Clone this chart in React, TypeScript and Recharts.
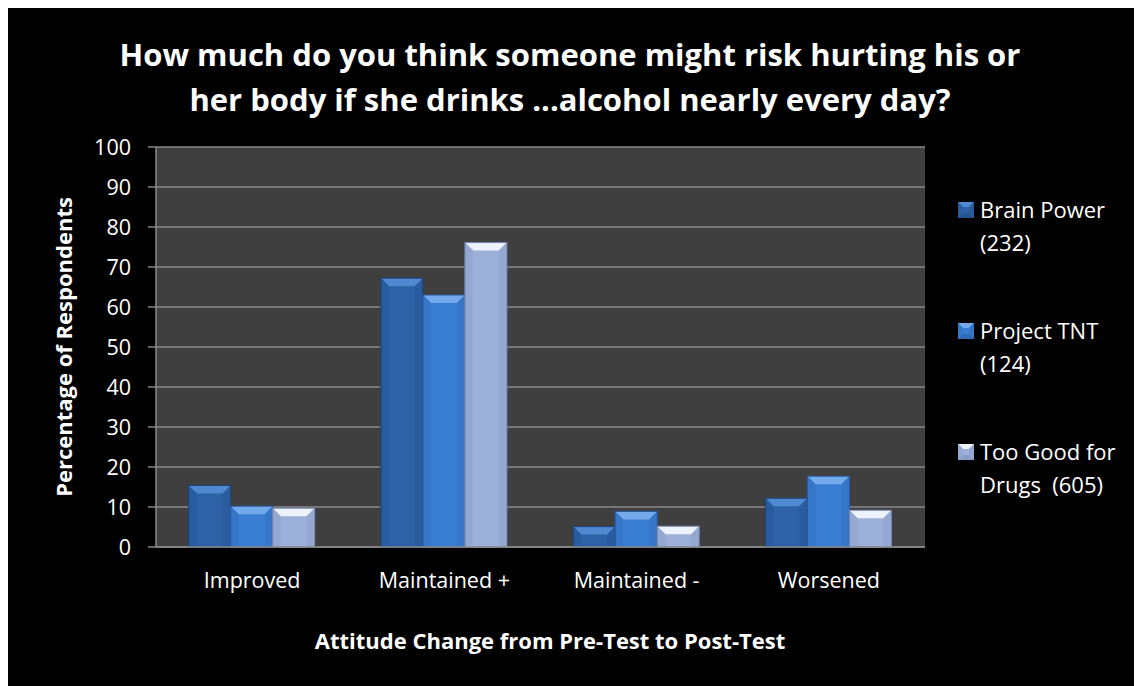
import { BarChart, Bar, XAxis, YAxis, CartesianGrid } from 'recharts'

// Attitude change categories
const categories = ['Improved', 'Maintained +', 'Maintained -', 'Worsened']

// Percentage of respondents per program
const brainPower = [15.4, 67.2, 5.1, 12.2]
const projectTnt = [10.2, 63.0, 8.9, 17.7]
const tooGood = [9.7, 76.1, 5.2, 9.2]

const yTicks = [0, 10, 20, 30, 40, 50, 60, 70, 80, 90, 100]

const seriesNames = ['Brain Power (232)', 'Project TNT (124)', 'Too Good for Drugs  (605)']
const legendLines = [
  ['Brain Power', '(232)'],
  ['Project TNT', '(124)'],
  ['Too Good for', 'Drugs  (605)'],
]

const data = categories.map((name, i) => ({
  name,
  brain: brainPower[i],
  tnt: projectTnt[i],
  tgfd: tooGood[i],
}))

interface Palette {
  face: string
  top: string
  side: string
  bottom: string
  edge: string
}

const palettes: Palette[] = [
  { face: '#2d62a7', top: '#5089cf', side: '#285c9f', bottom: '#24548f', edge: '#1a4279' },
  { face: '#3a7ed3', top: '#74aaec', side: '#3676c8', bottom: '#306bb5', edge: '#2859a0' },
  { face: '#9cb0d9', top: '#eef2fd', side: '#94a8d2', bottom: '#8b9fc8', edge: '#7185b0' },
]

const FONT = '"Open Sans", sans-serif'

// Bevelled bar, like the Office "cool slant" preset
function makeBevelBar(p: Palette) {
  return function BevelBar(props: any) {
    const { x, y, width: w, height: h } = props
    if (!h || h <= 0) return null
    const b = Math.min(8, h / 2, w / 2)
    return (
      <g>
        <rect x={x} y={y} width={w} height={h} fill={p.face} />
        <polygon
          points={`${x},${y} ${x + w},${y} ${x + w - b},${y + b} ${x + b},${y + b}`}
          fill={p.top}
        />
        <polygon
          points={`${x},${y} ${x + b},${y + b} ${x + b},${y + h} ${x},${y + h}`}
          fill={p.side}
        />
        <polygon
          points={`${x + w},${y} ${x + w - b},${y + b} ${x + w - b},${y + h} ${x + w},${y + h}`}
          fill={p.side}
        />
        <rect x={x} y={y} width={w} height={h} fill="none" stroke={p.edge} strokeWidth={1} />
      </g>
    )
  }
}

function LegendIcon({ p }: { p: Palette }) {
  return (
    <svg width={16} height={16} style={{ display: 'block' }}>
      <rect x={0} y={0} width={16} height={16} fill={p.face} />
      <polygon points="0,0 16,0 11,5 5,5" fill={p.top} />
      <polygon points="0,0 5,5 5,11 0,16" fill={p.side} />
      <polygon points="16,0 11,5 11,11 16,16" fill={p.side} />
      <polygon points="0,16 5,11 11,11 16,16" fill={p.bottom} />
    </svg>
  )
}

function ChartLegend() {
  return (
    <div
      style={{
        position: 'absolute',
        left: 950,
        top: 185,
        fontFamily: FONT,
        color: '#fff',
        fontSize: 22,
      }}
    >
      {legendLines.map((lines, i) => (
        <div
          key={i}
          title={seriesNames[i]}
          style={{ display: 'flex', alignItems: 'flex-start', height: 121 }}
        >
          <div style={{ marginTop: 9, marginRight: 6 }}>
            <LegendIcon p={palettes[i]} />
          </div>
          <div style={{ lineHeight: '33px', whiteSpace: 'pre' }}>
            {lines.map((l, j) => (
              <div key={j}>{l}</div>
            ))}
          </div>
        </div>
      ))}
    </div>
  )
}

export default function App() {
  const keys = ['brain', 'tnt', 'tgfd']
  return (
    <div
      style={{
        position: 'relative',
        width: 1134,
        height: 678,
        background: '#000',
        fontFamily: FONT,
        overflow: 'hidden',
      }}
    >
      <div
        style={{
          position: 'absolute',
          left: 0,
          top: 24,
          width: 1124,
          textAlign: 'center',
          color: '#fff',
          fontWeight: 700,
          fontSize: 31,
          lineHeight: '45px',
        }}
      >
        How much do you think someone might risk hurting his or
        <br />
        her body if she drinks ...alcohol nearly every day?
      </div>

      <div
        style={{
          position: 'absolute',
          left: 55,
          top: 339,
          transform: 'translate(-50%, -50%) rotate(-90deg)',
          color: '#fff',
          fontWeight: 700,
          fontSize: 22,
          whiteSpace: 'nowrap',
        }}
      >
        Percentage of Respondents
      </div>

      <div
        style={{
          position: 'absolute',
          left: 542,
          top: 632,
          transform: 'translate(-50%, -50%)',
          color: '#fff',
          fontWeight: 700,
          fontSize: 22,
          whiteSpace: 'nowrap',
        }}
      >
        Attitude Change from Pre-Test to Post-Test
      </div>

      <BarChart
        width={1134}
        height={678}
        data={data}
        margin={{ top: 139, right: 217, bottom: 99, left: 88 }}
        barCategoryGap="17%"
        barGap={0}
        style={{ position: 'absolute', left: 0, top: 0 }}
      >
        <CartesianGrid
          vertical={false}
          stroke="#8a8a8a"
          strokeWidth={1.5}
          fill="#3f3f3f"
          fillOpacity={1}
        />
        <XAxis
          dataKey="name"
          height={40}
          axisLine={{ stroke: '#8a8a8a', strokeWidth: 1.5 }}
          tickLine={false}
          tickSize={0}
          tickMargin={26}
          tick={{ fill: '#fff', fontSize: 21.5, fontFamily: FONT }}
          interval={0}
        />
        <YAxis
          width={60}
          domain={[0, 100]}
          ticks={yTicks}
          interval={0}
          axisLine={{ stroke: '#8a8a8a', strokeWidth: 1.5 }}
          tickLine={{ stroke: '#8a8a8a', strokeWidth: 1.5 }}
          tickSize={8}
          tickMargin={17}
          tick={{ fill: '#fff', fontSize: 21.5, fontFamily: FONT }}
        />
        {keys.map((k, i) => (
          <Bar
            key={k}
            dataKey={k}
            name={seriesNames[i]}
            fill={palettes[i].face}
            shape={makeBevelBar(palettes[i])}
            isAnimationActive={false}
          />
        ))}
      </BarChart>
      <ChartLegend />
    </div>
  )
}
